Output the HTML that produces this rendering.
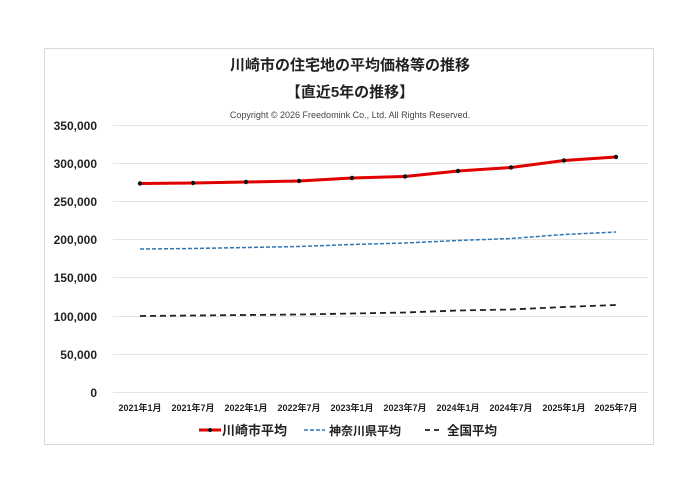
<!DOCTYPE html>
<html><head><meta charset="utf-8"><style>
body{margin:0;background:#fff;}
svg text{font-family:"Liberation Sans","Noto Sans CJK JP",sans-serif;}
</style></head><body>
<svg width="700" height="495" xmlns="http://www.w3.org/2000/svg">
<rect x="0" y="0" width="700" height="495" fill="#fff"/>
<rect x="44.5" y="48.5" width="609" height="396" fill="#fff" stroke="#d9d9d9"/>
<text x="350" y="70" text-anchor="middle" font-size="15" font-weight="bold" fill="#222">川崎市の住宅地の平均価格等の推移</text>
<text x="350" y="97" text-anchor="middle" font-size="15" font-weight="bold" fill="#222">【直近5年の推移】</text>
<text x="350" y="118" text-anchor="middle" font-size="9" fill="#444">Copyright © 2026 Freedomink Co., Ltd. All Rights Reserved.</text>
<g stroke="#e3e3e3" stroke-width="1">
<line x1="113" x2="648" y1="125.5" y2="125.5"/><line x1="113" x2="648" y1="163.5" y2="163.5"/>
<line x1="113" x2="648" y1="201.5" y2="201.5"/><line x1="113" x2="648" y1="239.5" y2="239.5"/>
<line x1="113" x2="648" y1="277.5" y2="277.5"/><line x1="113" x2="648" y1="316.5" y2="316.5"/>
<line x1="113" x2="648" y1="354.5" y2="354.5"/><line x1="113" x2="648" y1="392.5" y2="392.5"/>
</g>
<g font-size="12" font-weight="bold" fill="#222" text-anchor="end">
<text x="97" y="130">350,000</text><text x="97" y="168">300,000</text><text x="97" y="206">250,000</text>
<text x="97" y="244">200,000</text><text x="97" y="282">150,000</text><text x="97" y="321">100,000</text>
<text x="97" y="359">50,000</text><text x="97" y="397">0</text>
</g>
<g font-size="9" font-weight="bold" fill="#222" text-anchor="middle">
<text x="140" y="411">2021年1月</text><text x="193" y="411">2021年7月</text><text x="246" y="411">2022年1月</text>
<text x="299" y="411">2022年7月</text><text x="352" y="411">2023年1月</text><text x="405" y="411">2023年7月</text>
<text x="458" y="411">2024年1月</text><text x="511" y="411">2024年7月</text><text x="564" y="411">2025年1月</text>
<text x="616" y="411">2025年7月</text>
</g>
<polyline fill="none" stroke="#222" stroke-width="1.8" stroke-dasharray="6,4" points="140,316 193,315.5 246,315 299,314.5 352,313.5 405,312.5 458,310.5 511,309.5 564,307 616,305"/>
<polyline fill="none" stroke="#2e75b6" stroke-width="1.5" stroke-dasharray="4,2" points="140,249 193,248.5 246,247.5 299,246.5 352,244.5 405,243 458,240.5 511,238.5 564,234.5 616,232"/>
<polyline fill="none" stroke="#e00000" stroke-width="3" points="140,183.5 193,183 246,182 299,181 352,178 405,176.5 458,171 511,167.5 564,160.5 616,157"/>
<g fill="#111">
<circle cx="140" cy="183.5" r="2.2"/><circle cx="193" cy="183" r="2.2"/><circle cx="246" cy="182" r="2.2"/>
<circle cx="299" cy="181" r="2.2"/><circle cx="352" cy="178" r="2.2"/><circle cx="405" cy="176.5" r="2.2"/>
<circle cx="458" cy="171" r="2.2"/><circle cx="511" cy="167.5" r="2.2"/><circle cx="564" cy="160.5" r="2.2"/>
<circle cx="616" cy="157" r="2.2"/>
</g>
<line x1="199" x2="221" y1="430" y2="430" stroke="#e00000" stroke-width="3"/>
<circle cx="210" cy="430" r="2" fill="#111"/>
<text x="222" y="435" font-size="13" font-weight="bold" fill="#222">川崎市平均</text>
<line x1="304" x2="325" y1="430" y2="430" stroke="#2e75b6" stroke-width="1.5" stroke-dasharray="4,2"/>
<text x="329" y="435" font-size="12" font-weight="bold" fill="#222">神奈川県平均</text>
<line x1="425" x2="441" y1="430" y2="430" stroke="#222" stroke-width="1.8" stroke-dasharray="5,4"/>
<text x="447" y="435" font-size="12.5" font-weight="bold" fill="#222">全国平均</text>
</svg>
</body></html>
